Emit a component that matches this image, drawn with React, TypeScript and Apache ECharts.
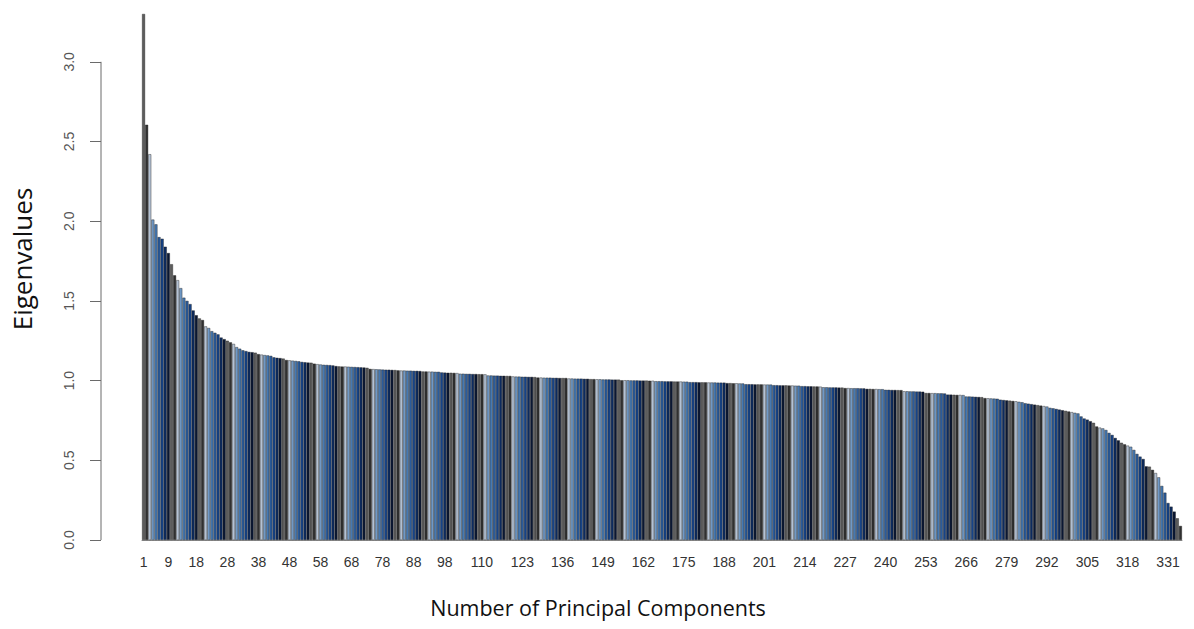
import React, { useEffect, useRef } from "react";
import * as echarts from "echarts";

// Eigenvalue of each principal component, in decreasing order
const eigenvalues: number[] = [
  3.3, 2.605, 2.42, 2.01, 1.98, 1.9, 1.89, 1.84, 1.8, 1.73,
  1.66, 1.63, 1.58, 1.52, 1.5, 1.48, 1.44, 1.41, 1.39, 1.38,
  1.34, 1.33, 1.31, 1.3, 1.29, 1.27, 1.26, 1.25, 1.24, 1.23,
  1.21, 1.2, 1.19, 1.185, 1.18, 1.178, 1.175, 1.166, 1.163, 1.16,
  1.158, 1.155, 1.146, 1.143, 1.141, 1.138, 1.129, 1.127, 1.125, 1.123,
  1.121, 1.117, 1.115, 1.113, 1.112, 1.106, 1.103, 1.101, 1.099, 1.098,
  1.097, 1.095, 1.091, 1.089, 1.088, 1.088, 1.087, 1.086, 1.085, 1.084,
  1.083, 1.082, 1.08, 1.073, 1.072, 1.071, 1.07, 1.069, 1.068, 1.068,
  1.067, 1.066, 1.064, 1.063, 1.063, 1.062, 1.062, 1.061, 1.061, 1.06,
  1.057, 1.057, 1.056, 1.056, 1.055, 1.055, 1.051, 1.05, 1.049, 1.049,
  1.048, 1.047, 1.043, 1.043, 1.042, 1.042, 1.041, 1.041, 1.04, 1.04,
  1.039, 1.032, 1.032, 1.031, 1.031, 1.03, 1.03, 1.029, 1.029, 1.026,
  1.025, 1.025, 1.024, 1.024, 1.023, 1.023, 1.022, 1.019, 1.019, 1.018,
  1.018, 1.018, 1.017, 1.017, 1.016, 1.016, 1.016, 1.013, 1.013, 1.012,
  1.012, 1.012, 1.011, 1.011, 1.009, 1.009, 1.008, 1.008, 1.007, 1.007,
  1.007, 1.006, 1.006, 1.006, 1.002, 1.002, 1.002, 1.001, 1.001, 1.001,
  1.0, 1.0, 1.0, 0.999, 0.999, 0.996, 0.996, 0.996, 0.995, 0.995,
  0.995, 0.994, 0.994, 0.994, 0.993, 0.993, 0.99, 0.99, 0.99, 0.989,
  0.989, 0.989, 0.988, 0.988, 0.988, 0.987, 0.987, 0.987, 0.984, 0.984,
  0.983, 0.983, 0.982, 0.982, 0.977, 0.977, 0.977, 0.976, 0.976, 0.976,
  0.975, 0.975, 0.975, 0.971, 0.971, 0.97, 0.97, 0.97, 0.969, 0.969,
  0.968, 0.968, 0.965, 0.965, 0.964, 0.964, 0.963, 0.963, 0.962, 0.958,
  0.958, 0.957, 0.957, 0.957, 0.956, 0.956, 0.953, 0.953, 0.952, 0.952,
  0.952, 0.951, 0.951, 0.948, 0.948, 0.947, 0.947, 0.946, 0.946, 0.942,
  0.942, 0.941, 0.941, 0.94, 0.94, 0.933, 0.933, 0.932, 0.932, 0.931,
  0.931, 0.93, 0.922, 0.922, 0.921, 0.921, 0.92, 0.92, 0.919, 0.912,
  0.912, 0.911, 0.91, 0.91, 0.909, 0.9, 0.9, 0.899, 0.898, 0.897,
  0.896, 0.89, 0.889, 0.888, 0.887, 0.886, 0.88, 0.878, 0.876, 0.874,
  0.872, 0.87, 0.867, 0.864, 0.858, 0.855, 0.852, 0.849, 0.846, 0.843,
  0.84, 0.837, 0.829, 0.826, 0.822, 0.818, 0.814, 0.81, 0.806, 0.802,
  0.798, 0.794, 0.775, 0.762, 0.755, 0.745, 0.735, 0.712, 0.705, 0.7,
  0.69, 0.672, 0.659, 0.64, 0.625, 0.61, 0.6, 0.592, 0.585, 0.565,
  0.54, 0.523, 0.508, 0.462, 0.46, 0.44, 0.42, 0.393, 0.339, 0.297,
  0.232, 0.209, 0.178, 0.136, 0.088,
];

// Component numbers shown under the axis
const tickLabels: string[] = [
  "1", "9", "18", "28", "38", "48", "58", "68", "78", "88", "98",
  "110", "123", "136", "149", "162", "175", "188", "201", "214", "227",
  "240", "253", "266", "279", "292", "305", "318", "331",
];

// Value-axis ticks
const yTicks: number[] = [0, 0.5, 1, 1.5, 2, 2.5, 3];

// Recycled bar fill colours
const barPalette: string[] = [
  "#5c5c5c", "#303030", "#b4c2d4", "#7099c6", "#4679b2",
  "#2b5c9c", "#164489", "#0c2b60", "#0a1733",
];

const componentNumbers: string[] = eigenvalues.map((_, i) => String(i + 1));

const GRID_LEFT = 142;
const Y_AXIS_OFFSET = 41;

export default function App() {
  const ref = useRef<HTMLDivElement>(null);

  useEffect(() => {
    if (!ref.current) return;
    const chart = echarts.init(ref.current, undefined, { renderer: "svg" });
    const shown = new Set(tickLabels);

    chart.setOption({
      animation: false,
      backgroundColor: "#ffffff",
      grid: { left: GRID_LEFT, right: 12, top: 14, bottom: 89, containLabel: false },
      xAxis: {
        type: "category",
        data: componentNumbers,
        axisLine: { show: true, lineStyle: { color: "#8c8c8c", width: 1 } },
        axisTick: { show: false },
        axisLabel: {
          interval: (_idx: number, val: string) => shown.has(val),
          margin: 15,
          color: "#333333",
          fontFamily: "Liberation Sans, Arial, sans-serif",
          fontSize: 14,
          hideOverlap: false,
        },
      },
      yAxis: {
        type: "value",
        min: 0,
        max: 3.3,
        offset: Y_AXIS_OFFSET,
        splitLine: { show: false },
        axisLine: { show: false },
        axisTick: {
          show: true,
          length: 11,
          customValues: yTicks,
          lineStyle: { color: "#6a6a6a", width: 1 },
        },
        axisLabel: {
          customValues: yTicks,
          rotate: 90,
          margin: 25,
          color: "#555555",
          fontFamily: "Liberation Sans, Arial, sans-serif",
          fontSize: 14,
          formatter: (v: number) => v.toFixed(1),
        },
      },
      series: [
        {
          type: "bar",
          data: eigenvalues.map((v, i) => ({
            value: v,
            itemStyle: { color: barPalette[i % barPalette.length] },
          })),
          barCategoryGap: "6%",
          itemStyle: { borderColor: "#1c1c1c", borderWidth: 0.4 },
        },
      ],
    });

    // R-style axis line that stops at the last labelled tick
    const axisX = GRID_LEFT - Y_AXIS_OFFSET;
    const y0 = chart.convertToPixel({ yAxisIndex: 0 }, yTicks[0]) as number;
    const yTop = chart.convertToPixel({ yAxisIndex: 0 }, yTicks[yTicks.length - 1]) as number;

    chart.setOption({
      graphic: [
        {
          type: "line",
          shape: { x1: axisX, y1: y0, x2: axisX, y2: yTop },
          style: { stroke: "#6a6a6a", lineWidth: 1 },
        },
        {
          type: "text",
          x: 22,
          y: 259,
          rotation: Math.PI / 2,
          style: {
            text: "Eigenvalues",
            align: "center",
            verticalAlign: "middle",
            fill: "#111111",
            font: '26px "Open Sans", sans-serif',
          },
        },
        {
          type: "text",
          x: 598,
          y: 607,
          style: {
            text: "Number of Principal Components",
            align: "center",
            verticalAlign: "middle",
            fill: "#111111",
            font: '21.5px "Open Sans", sans-serif',
          },
        },
      ],
    });

    return () => chart.dispose();
  }, []);

  return (
    <div
      ref={ref}
      style={{ position: "fixed", left: 0, top: 0, width: 1194, height: 629 }}
    />
  );
}
